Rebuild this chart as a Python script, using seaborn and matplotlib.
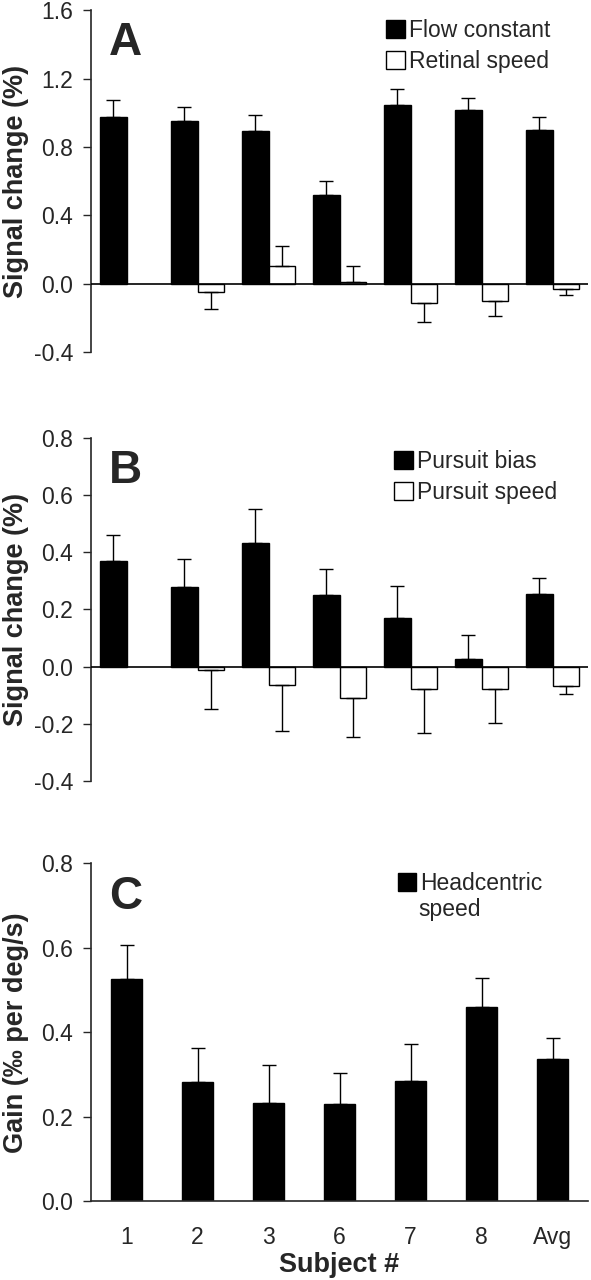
import numpy as np
import pandas as pd
import seaborn as sns
import matplotlib
matplotlib.use("Agg")
import matplotlib.pyplot as plt

# subjects on the x axis
subjects = ["1", "2", "3", "6", "7", "8", "Avg"]

# panel A
flow_constant = [0.976, 0.952, 0.892, 0.521, 1.044, 1.019, 0.900]
flow_constant_err = [0.100, 0.080, 0.094, 0.078, 0.094, 0.068, 0.078]
retinal_speed = [np.nan, -0.051, 0.103, 0.010, -0.111, -0.100, -0.029]
retinal_speed_err = [np.nan, 0.100, 0.120, 0.095, 0.113, 0.088, 0.039]

# panel B
pursuit_bias = [0.369, 0.277, 0.433, 0.250, 0.171, 0.026, 0.255]
pursuit_bias_err = [0.090, 0.098, 0.117, 0.092, 0.111, 0.085, 0.056]
pursuit_speed = [np.nan, -0.012, -0.063, -0.111, -0.078, -0.079, -0.068]
pursuit_speed_err = [np.nan, 0.137, 0.162, 0.134, 0.155, 0.119, 0.029]

# panel C
headcentric = [0.526, 0.283, 0.233, 0.230, 0.284, 0.460, 0.336]
headcentric_err = [0.080, 0.079, 0.089, 0.074, 0.088, 0.069, 0.050]

sns.set_style("ticks")
plt.rcParams['font.family'] = ['Liberation Sans', 'DejaVu Sans']
plt.rcParams['axes.unicode_minus'] = False
plt.rcParams['axes.linewidth'] = 1.2

TICK_FS = 16.5
LAB_FS = 19.5
LEG_FS = 16.5


def make_df(series):
    rows = []
    for name, vals, errs in series:
        for s, v, e in zip(subjects, vals, errs):
            if not np.isnan(v):
                rows.append({"subject": s, "cond": name, "value": v, "err": e})
    return pd.DataFrame(rows)


def draw_panel(ax, series, colors, width):
    df = make_df(series)
    sns.barplot(data=df, x="subject", y="value", hue="cond", order=subjects,
                hue_order=[s[0] for s in series], palette=colors, width=width,
                gap=0, errorbar=None, edgecolor="black", linewidth=1.0,
                saturation=1, ax=ax)
    # one-sided error bars, away from zero
    for cont, (name, vals, errs) in zip(ax.containers, series):
        for bar in cont:
            h = bar.get_height()
            if np.isnan(h):
                continue
            xc = bar.get_x() + bar.get_width() / 2
            i = int(round(xc))
            v = vals[i]
            e = errs[i]
            if v >= 0:
                yerr = [[0], [e]]
            else:
                yerr = [[e], [0]]
            ax.errorbar([xc], [v], yerr=yerr, fmt="none", ecolor="black",
                        elinewidth=1.0, capsize=5, capthick=1.0, zorder=1)
    ax.set_xlim(-0.5, len(subjects) - 0.5)
    ax.set_xlabel("")
    ax.spines[["top", "right"]].set_visible(False)
    ax.tick_params(axis="y", labelsize=TICK_FS, length=5.5, width=1.0,
                   direction="out", pad=7.5)
    return df


fig = plt.figure(figsize=(5.91, 12.8), dpi=100)
left, width = 91 / 591, 497 / 591
axA = fig.add_axes([left, 0.725, width, 0.267])
axB = fig.add_axes([left, 0.3898, width, 0.2682])
axC = fig.add_axes([left, 0.0617, width, 0.2638])

# ---- A
draw_panel(axA, [("Flow constant", flow_constant, flow_constant_err),
                 ("Retinal speed", retinal_speed, retinal_speed_err)],
           ["black", "white"], 0.76)
axA.set_ylim(-0.4, 1.6)
axA.set_yticks(np.arange(-0.4, 1.61, 0.4))
axA.axhline(0, color="black", lw=1.2, zorder=3)

# ---- B
draw_panel(axB, [("Pursuit bias", pursuit_bias, pursuit_bias_err),
                 ("Pursuit speed", pursuit_speed, pursuit_speed_err)],
           ["black", "white"], 0.76)
axB.set_ylim(-0.4, 0.8)
axB.set_yticks(np.arange(-0.4, 0.81, 0.2))
axB.axhline(0, color="black", lw=1.2, zorder=3)

for ax in (axA, axB):
    ax.spines["bottom"].set_visible(False)
    ax.tick_params(axis="x", bottom=False, labelbottom=False)

# ---- C
draw_panel(axC, [("Headcentric", headcentric, headcentric_err)],
           ["black"], 0.43)
axC.set_ylim(0, 0.8)
axC.set_yticks(np.arange(0, 0.81, 0.2))
axC.tick_params(axis="x", length=0, labelsize=TICK_FS, pad=18)
axC.set_xlabel("Subject #", fontsize=LAB_FS, fontweight="bold", labelpad=2)

for ax in (axA, axB, axC):
    ax.yaxis.set_major_formatter(matplotlib.ticker.FormatStrFormatter("%.1f"))

axA.set_ylabel("Signal change (%)", fontsize=LAB_FS, fontweight="bold")
axB.set_ylabel("Signal change (%)", fontsize=LAB_FS, fontweight="bold")
axC.set_ylabel("Gain (‰ per deg/s)", fontsize=LAB_FS, fontweight="bold")
for ax in (axA, axB, axC):
    ax.yaxis.set_label_coords(-0.125, 0.5)

# legends
for ax, anchor in ((axA, (0.594, 0.975)), (axB, (0.61, 0.965)), (axC, (0.617, 0.975))):
    handles, labels = ax.get_legend_handles_labels()
    ax.legend(handles, labels, loc="upper left", bbox_to_anchor=anchor,
              frameon=False, fontsize=LEG_FS, handlelength=0.8, handleheight=0.8,
              handletextpad=0.2, borderpad=0, borderaxespad=0, labelspacing=0.35)
axC.text(0.659, 0.862, "speed", transform=axC.transAxes, fontsize=LEG_FS,
         ha="left", va="center")

# panel letters
for ax, letter, yb in ((axA, "A", 0.868), (axB, "B", 0.867), (axC, "C", 0.866)):
    ax.text(0.036, yb, letter, transform=ax.transAxes, fontsize=33,
            fontweight="bold", ha="left", va="baseline")

fig.savefig("out.png", dpi=100)
